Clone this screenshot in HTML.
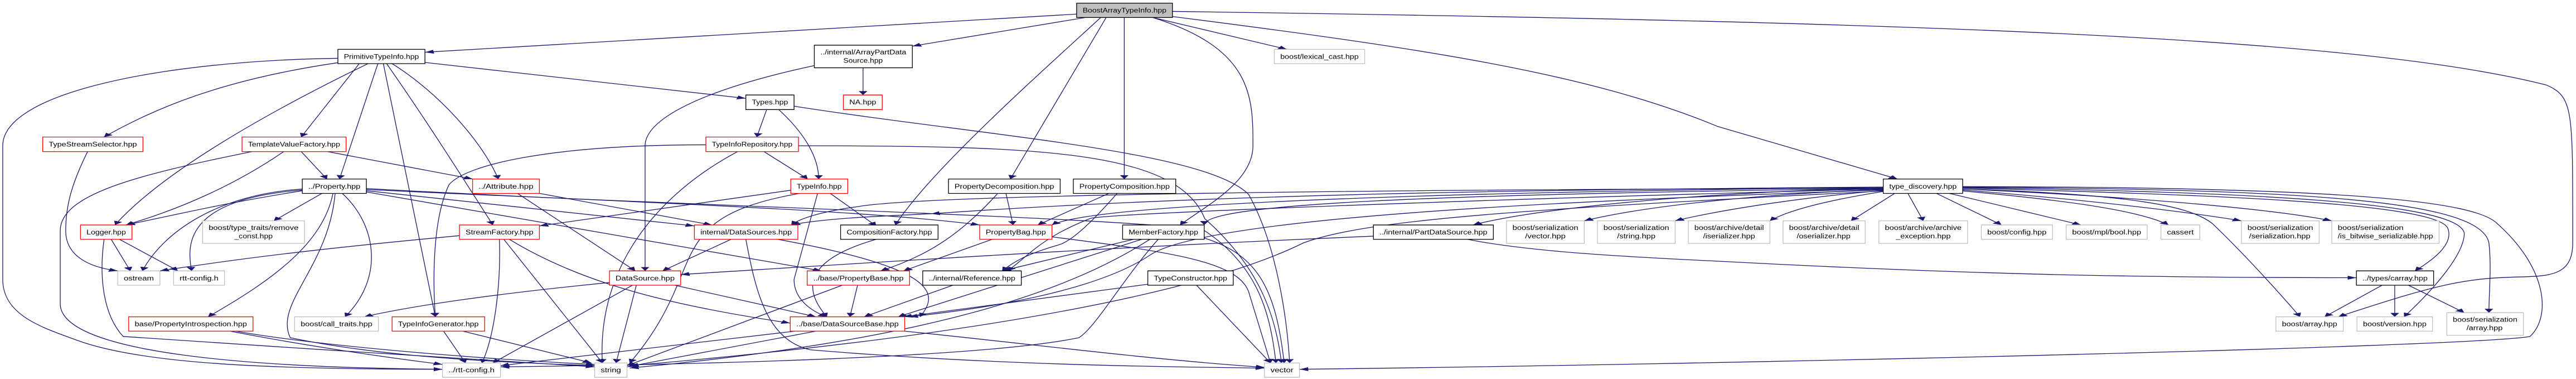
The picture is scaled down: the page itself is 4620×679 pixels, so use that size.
<!DOCTYPE html>
<html><head><meta charset="utf-8"><style>
html,body{margin:0;padding:0;background:#fff;width:4620px;height:679px;overflow:hidden}
svg{display:block}
text{font-family:"Liberation Sans",sans-serif;font-size:28px;fill:#000}
.e{fill:none;stroke:#191970;stroke-width:1.3;vector-effect:non-scaling-stroke}
.k{fill:#fff;stroke:#000;stroke-width:1.3;vector-effect:non-scaling-stroke}
.r{fill:#fff;stroke:#ff0000;stroke-width:1.3;vector-effect:non-scaling-stroke}
.g{fill:#fff;stroke:#bfbfbf;stroke-width:1.3;vector-effect:non-scaling-stroke}
.m{fill:#bfbfbf;stroke:#000;stroke-width:1.3;vector-effect:non-scaling-stroke}
</style></head><body>
<svg width="4620" height="679" viewBox="0 0 4704 1560" preserveAspectRatio="none" xmlns="http://www.w3.org/2000/svg">
<defs><marker id="a" markerUnits="userSpaceOnUse" markerWidth="18" markerHeight="18" refX="16" refY="8" orient="auto"><path d="M0,0 L16,8 L0,16 z" fill="#191970"/></marker></defs>
<g marker-end="url(#a)">
<!-- BoostArrayTypeInfo -->
<path class="e" d="M1966,58 L776,215"/>
<path class="e" d="M1982,72 L1666,190"/>
<path class="e" d="M2010,72 C1900,300 1700,700 1635,926"/>
<path class="e" d="M2020,72 L1845,737"/>
<path class="e" d="M2053,72 L2053,737"/>
<path class="e" d="M2105,72 C2288,200 2288,400 2288,600 C2288,750 2200,850 2155,926"/>
<path class="e" d="M2105,72 L2350,203"/>
<path class="e" d="M2141,68 C2600,200 2900,300 3136,520 L3465,737"/>
<path class="e" d="M2141,47 C3500,90 4300,150 4650,350 C4700,400 4698,450 4698,1000 C4698,1130 4660,1137 4600,1140 C4500,1145 4450,1170 4270,1304"/>
<!-- PrimitiveTypeInfo -->
<path class="e" d="M776,257 L1362,405"/>
<path class="e" d="M617,258 C400,330 280,450 190,564"/>
<path class="e" d="M656,262 L550,564"/>
<path class="e" d="M690,262 L620,737"/>
<path class="e" d="M716,262 C800,380 880,580 910,737"/>
<path class="e" d="M706,262 C780,500 850,750 900,926"/>
<path class="e" d="M700,262 L795,1304"/>
<path class="e" d="M672,262 C500,450 300,700 210,926"/>
<path class="e" d="M617,240 C300,250 5,380 5,600 L5,1150 C5,1300 80,1350 140,1400 C260,1500 500,1520 808,1520"/>
<!-- Types -->
<path class="e" d="M1400,451 L1382,564"/>
<path class="e" d="M1422,451 C1470,550 1495,650 1495,737"/>
<path class="e" d="M1450,437 C1800,560 2200,620 2280,800 C2330,1000 2350,1300 2355,1494"/>
<!-- ArrayPartDataSource -->
<path class="e" d="M1576,279 L1576,391"/>
<path class="e" d="M1487,270 C1300,360 1178,480 1178,600 L1178,1115"/>
<!-- TypeInfoRepository -->
<path class="e" d="M1395,624 L1475,737"/>
<path class="e" d="M1347,624 C1200,800 1090,1100 1100,1494"/>
<path class="e" d="M1289,596 C1000,596 850,680 820,760 C790,900 790,1150 795,1304"/>
<path class="e" d="M1458,600 C1900,600 2150,620 2200,900 C2300,1100 2330,1300 2340,1494"/>
<!-- TemplateValueFactory -->
<path class="e" d="M550,624 L597,737"/>
<path class="e" d="M598,624 L863,737"/>
<path class="e" d="M518,624 C430,760 330,860 230,926"/>
<path class="e" d="M460,624 C250,720 110,800 110,950 L110,1250 C110,1400 300,1510 808,1520"/>
<!-- Attribute -->
<path class="e" d="M945,796 L1160,1115"/>
<path class="e" d="M985,796 L1300,926"/>
<!-- TypeStreamSelector -->
<path class="e" d="M160,624 C130,760 120,850 120,950 C120,1050 160,1100 215,1115"/>
<!-- Property -->
<path class="e" d="M552,785 C400,840 330,880 230,926"/>
<path class="e" d="M552,778 C400,800 300,950 260,1115"/>
<path class="e" d="M552,782 C340,820 340,1000 350,1115"/>
<path class="e" d="M588,796 L500,909"/>
<path class="e" d="M608,796 C590,1000 500,1150 380,1304"/>
<path class="e" d="M625,796 C690,930 700,1150 630,1304"/>
<path class="e" d="M612,796 C600,1100 500,1250 530,1390 C700,1470 900,1490 1086,1505"/>
<path class="e" d="M669,785 L1268,930"/>
<path class="e" d="M669,790 L1500,1115"/>
<path class="e" d="M669,776 C1100,830 1568,860 1789,926"/>
<path class="e" d="M669,780 C1300,850 2100,900 2200,950 C2300,1100 2320,1300 2330,1494"/>
<!-- TypeInfo -->
<path class="e" d="M1444,783 L985,930"/>
<path class="e" d="M1460,796 C1200,900 1300,1100 1150,1494"/>
<path class="e" d="M1493,796 L1450,1150 C1450,1230 1480,1280 1510,1304"/>
<path class="e" d="M1516,796 L1600,930"/>
<!-- Logger -->
<path class="e" d="M203,985 L238,1115"/>
<path class="e" d="M218,985 L325,1115"/>
<path class="e" d="M190,985 C180,1150 190,1300 225,1385 C500,1430 900,1480 1086,1510"/>
<!-- StreamFactory -->
<path class="e" d="M839,970 C600,1020 450,1060 292,1115"/>
<path class="e" d="M912,985 C915,1200 900,1400 880,1494"/>
<path class="e" d="M920,985 L1100,1494"/>
<path class="e" d="M930,985 C1050,1150 1200,1250 1443,1330"/>
<!-- internal/DataSources -->
<path class="e" d="M1335,985 L1210,1115"/>
<path class="e" d="M1362,985 C1380,1200 1400,1400 1480,1440 C1800,1500 2100,1510 2309,1515"/>
<path class="e" d="M1420,985 C1700,1100 1720,1200 1680,1304"/>
<path class="e" d="M1700,880 C1600,890 1500,900 1445,926"/>
<!-- DataSource -->
<path class="e" d="M1113,1163 C900,1210 750,1260 665,1304"/>
<path class="e" d="M1155,1174 L900,1494"/>
<path class="e" d="M1162,1174 L1125,1494"/>
<path class="e" d="M1232,1174 L1490,1304"/>
<!-- PropertyBase -->
<path class="e" d="M1538,1174 L1145,1505"/>
<path class="e" d="M1566,1174 L1552,1304"/>
<!-- PropertyIntrospection / Generator -->
<path class="e" d="M420,1363 C550,1420 700,1470 808,1500"/>
<path class="e" d="M430,1363 C600,1430 900,1480 1086,1500"/>
<path class="e" d="M810,1363 L850,1494"/>
<path class="e" d="M845,1363 L1080,1494"/>
<!-- DataSourceBase -->
<path class="e" d="M1452,1363 L914,1505"/>
<path class="e" d="M1490,1363 L1145,1510"/>
<path class="e" d="M1652,1363 C1900,1420 2100,1480 2309,1512"/>
<!-- CompositionFactory -->
<path class="e" d="M1600,985 C1500,1050 1450,1150 1510,1304"/>
<!-- PropertyDecomposition / Composition -->
<path class="e" d="M1837,796 L1850,926"/>
<path class="e" d="M1822,796 C1760,950 1700,1050 1608,1115"/>
<path class="e" d="M2025,796 L1895,926"/>
<path class="e" d="M2040,796 C1980,950 1950,1000 1930,1010 C1870,1050 1850,1080 1830,1115"/>
<!-- PropertyBag -->
<path class="e" d="M1812,985 L1650,1115"/>
<path class="e" d="M1921,975 C2150,1040 2260,1080 2280,1200 C2300,1350 2310,1420 2320,1494"/>
<!-- MemberFactory -->
<path class="e" d="M2070,985 L1830,1115"/>
<path class="e" d="M2085,985 L1640,1304"/>
<path class="e" d="M2100,985 C1950,1200 1700,1400 1150,1515"/>
<path class="e" d="M2115,985 C2050,1150 2000,1350 1970,1390 C1800,1470 1300,1500 914,1510"/>
<path class="e" d="M2199,980 C2300,1050 2330,1200 2345,1494"/>
<!-- Reference / TypeConstructor -->
<path class="e" d="M1740,1174 L1578,1304"/>
<path class="e" d="M2096,1170 L1650,1304"/>
<path class="e" d="M2185,1174 L2320,1494"/>
<!-- PartDataSource -->
<path class="e" d="M2508,972 C2000,1020 1600,1080 1243,1130"/>
<path class="e" d="M2680,985 C2800,1040 3000,1060 3136,1075 C3600,1130 3900,1143 4303,1143"/>
<!-- type_discovery fan -->
<path class="e" d="M3439,775 C3100,790 2800,860 2690,926"/>
<path class="e" d="M3439,780 C3200,800 3000,850 2893,909"/>
<path class="e" d="M3439,784 C3300,810 3150,860 3059,909"/>
<path class="e" d="M3439,788 C3350,820 3270,860 3232,909"/>
<path class="e" d="M3460,796 L3380,909"/>
<path class="e" d="M3484,796 L3512,909"/>
<path class="e" d="M3536,796 L3655,926"/>
<path class="e" d="M3560,796 L3800,926"/>
<path class="e" d="M3584,786 C3750,820 3900,860 3960,926"/>
<path class="e" d="M3584,782 C3800,820 3990,870 4093,909"/>
<path class="e" d="M3584,778 C3900,810 4150,860 4258,909"/>
<path class="e" d="M3584,774 C4000,800 4450,830 4470,940 C4480,1000 4450,1060 4410,1115"/>
<path class="e" d="M3584,778 C3900,800 4000,850 4040,920 C4100,1050 4160,1200 4200,1304"/>
<path class="e" d="M3584,772 C4100,790 4490,830 4500,960 C4500,1050 4440,1200 4390,1304"/>
<path class="e" d="M3584,770 C4200,780 4530,820 4545,1000 C4550,1100 4545,1200 4545,1287"/>
<path class="e" d="M3584,768 C4300,770 4520,830 4560,920 C4650,1100 4660,1300 4620,1385 C4500,1430 3136,1500 2373,1520"/>
<path class="e" d="M3439,770 C2800,780 2200,800 1700,880"/>
<path class="e" d="M3439,772 C2600,790 2000,840 1921,926"/>
<path class="e" d="M3439,776 C2600,800 2200,840 2199,926"/>
<path class="e" d="M3439,778 C2700,820 2000,880 1990,900 C1900,980 1880,1050 1840,1115"/>
<path class="e" d="M3439,782 C2800,830 2200,900 2100,1050 C2000,1200 1800,1270 1660,1304"/>
<path class="e" d="M3439,786 C2800,860 2500,900 2380,1000 C2200,1200 1800,1380 1150,1505"/>
<path class="e" d="M3439,775 C2500,780 1700,800 1568,850 C1500,870 1460,900 1445,926"/>
<!-- carray -->
<path class="e" d="M4350,1174 L4245,1304"/>
<path class="e" d="M4373,1174 L4373,1304"/>
<path class="e" d="M4398,1174 L4500,1287"/>
</g>
<!-- nodes -->
<g>
<rect class="m" x="1966" y="13" width="175" height="59"/><text x="1977" y="52" textLength="153" lengthAdjust="spacingAndGlyphs">BoostArrayTypeInfo.hpp</text>
<rect class="k" x="617" y="203" width="159" height="59"/><text x="628" y="242" textLength="137" lengthAdjust="spacingAndGlyphs">PrimitiveTypeInfo.hpp</text>
<rect class="k" x="1487" y="186" width="179" height="93"/><text x="1498" y="224" textLength="157" lengthAdjust="spacingAndGlyphs">../internal/ArrayPartData</text><text x="1540" y="258" textLength="72" lengthAdjust="spacingAndGlyphs">Source.hpp</text>
<rect class="g" x="2327" y="203" width="165" height="59"/><text x="2338" y="242" textLength="143" lengthAdjust="spacingAndGlyphs">boost/lexical_cast.hpp</text>
<rect class="k" x="1362" y="391" width="88" height="60"/><text x="1373" y="430" textLength="66" lengthAdjust="spacingAndGlyphs">Types.hpp</text>
<rect class="r" x="1540" y="391" width="71" height="60"/><text x="1551" y="430" textLength="49" lengthAdjust="spacingAndGlyphs">NA.hpp</text>
<rect class="r" x="78" y="564" width="183" height="60"/><text x="89" y="603" textLength="161" lengthAdjust="spacingAndGlyphs">TypeStreamSelector.hpp</text>
<rect class="r" x="442" y="564" width="190" height="60"/><text x="453" y="603" textLength="168" lengthAdjust="spacingAndGlyphs">TemplateValueFactory.hpp</text>
<rect class="r" x="1289" y="564" width="169" height="60"/><text x="1300" y="603" textLength="147" lengthAdjust="spacingAndGlyphs">TypeInfoRepository.hpp</text>
<rect class="k" x="552" y="737" width="117" height="59"/><text x="563" y="776" textLength="95" lengthAdjust="spacingAndGlyphs">../Property.hpp</text>
<rect class="r" x="863" y="737" width="122" height="59"/><text x="874" y="776" textLength="100" lengthAdjust="spacingAndGlyphs">../Attribute.hpp</text>
<rect class="r" x="1444" y="737" width="104" height="59"/><text x="1455" y="776" textLength="82" lengthAdjust="spacingAndGlyphs">TypeInfo.hpp</text>
<rect class="k" x="1732" y="737" width="204" height="59"/><text x="1743" y="776" textLength="182" lengthAdjust="spacingAndGlyphs">PropertyDecomposition.hpp</text>
<rect class="k" x="1960" y="737" width="187" height="59"/><text x="1971" y="776" textLength="165" lengthAdjust="spacingAndGlyphs">PropertyComposition.hpp</text>
<rect class="k" x="3439" y="737" width="145" height="59"/><text x="3450" y="776" textLength="123" lengthAdjust="spacingAndGlyphs">type_discovery.hpp</text>
<rect class="r" x="147" y="926" width="94" height="59"/><text x="158" y="965" textLength="72" lengthAdjust="spacingAndGlyphs">Logger.hpp</text>
<rect class="g" x="370" y="909" width="186" height="93"/><text x="381" y="947" textLength="164" lengthAdjust="spacingAndGlyphs">boost/type_traits/remove</text><text x="428" y="981" textLength="70" lengthAdjust="spacingAndGlyphs">_const.hpp</text>
<rect class="r" x="839" y="926" width="146" height="59"/><text x="850" y="965" textLength="124" lengthAdjust="spacingAndGlyphs">StreamFactory.hpp</text>
<rect class="r" x="1268" y="926" width="189" height="59"/><text x="1279" y="965" textLength="167" lengthAdjust="spacingAndGlyphs">internal/DataSources.hpp</text>
<rect class="k" x="1535" y="926" width="178" height="59"/><text x="1546" y="965" textLength="156" lengthAdjust="spacingAndGlyphs">CompositionFactory.hpp</text>
<rect class="r" x="1789" y="926" width="132" height="59"/><text x="1800" y="965" textLength="110" lengthAdjust="spacingAndGlyphs">PropertyBag.hpp</text>
<rect class="k" x="2050" y="926" width="149" height="59"/><text x="2061" y="965" textLength="127" lengthAdjust="spacingAndGlyphs">MemberFactory.hpp</text>
<rect class="k" x="2508" y="926" width="219" height="59"/><text x="2519" y="965" textLength="197" lengthAdjust="spacingAndGlyphs">../internal/PartDataSource.hpp</text>
<rect class="g" x="2751" y="909" width="142" height="93"/><text x="2762" y="947" textLength="120" lengthAdjust="spacingAndGlyphs">boost/serialization</text><text x="2785" y="981" textLength="74" lengthAdjust="spacingAndGlyphs">/vector.hpp</text>
<rect class="g" x="2917" y="909" width="142" height="93"/><text x="2928" y="947" textLength="120" lengthAdjust="spacingAndGlyphs">boost/serialization</text><text x="2953" y="981" textLength="70" lengthAdjust="spacingAndGlyphs">/string.hpp</text>
<rect class="g" x="3083" y="909" width="149" height="93"/><text x="3094" y="947" textLength="127" lengthAdjust="spacingAndGlyphs">boost/archive/detail</text><text x="3110" y="981" textLength="95" lengthAdjust="spacingAndGlyphs">/iserializer.hpp</text>
<rect class="g" x="3256" y="909" width="150" height="93"/><text x="3267" y="947" textLength="128" lengthAdjust="spacingAndGlyphs">boost/archive/detail</text><text x="3281" y="981" textLength="98" lengthAdjust="spacingAndGlyphs">/oserializer.hpp</text>
<rect class="g" x="3431" y="909" width="162" height="93"/><text x="3442" y="947" textLength="140" lengthAdjust="spacingAndGlyphs">boost/archive/archive</text><text x="3462" y="981" textLength="100" lengthAdjust="spacingAndGlyphs">_exception.hpp</text>
<rect class="g" x="3618" y="926" width="130" height="59"/><text x="3629" y="965" textLength="108" lengthAdjust="spacingAndGlyphs">boost/config.hpp</text>
<rect class="g" x="3773" y="926" width="148" height="59"/><text x="3784" y="965" textLength="126" lengthAdjust="spacingAndGlyphs">boost/mpl/bool.hpp</text>
<rect class="g" x="3946" y="926" width="71" height="59"/><text x="3957" y="965" textLength="49" lengthAdjust="spacingAndGlyphs">cassert</text>
<rect class="g" x="4093" y="909" width="142" height="93"/><text x="4104" y="947" textLength="120" lengthAdjust="spacingAndGlyphs">boost/serialization</text><text x="4107" y="981" textLength="112" lengthAdjust="spacingAndGlyphs">/serialization.hpp</text>
<rect class="g" x="4258" y="909" width="196" height="93"/><text x="4269" y="947" textLength="120" lengthAdjust="spacingAndGlyphs">boost/serialization</text><text x="4269" y="981" textLength="174" lengthAdjust="spacingAndGlyphs">/is_bitwise_serializable.hpp</text>
<rect class="g" x="215" y="1115" width="77" height="59"/><text x="226" y="1154" textLength="55" lengthAdjust="spacingAndGlyphs">ostream</text>
<rect class="g" x="317" y="1115" width="93" height="59"/><text x="328" y="1154" textLength="71" lengthAdjust="spacingAndGlyphs">rtt-config.h</text>
<rect class="r" x="1113" y="1115" width="130" height="59"/><text x="1124" y="1154" textLength="108" lengthAdjust="spacingAndGlyphs">DataSource.hpp</text>
<rect class="r" x="1474" y="1115" width="187" height="59"/><text x="1485" y="1154" textLength="165" lengthAdjust="spacingAndGlyphs">../base/PropertyBase.hpp</text>
<rect class="k" x="1685" y="1115" width="180" height="59"/><text x="1696" y="1154" textLength="158" lengthAdjust="spacingAndGlyphs">../internal/Reference.hpp</text>
<rect class="k" x="2096" y="1115" width="156" height="59"/><text x="2107" y="1154" textLength="134" lengthAdjust="spacingAndGlyphs">TypeConstructor.hpp</text>
<rect class="k" x="4303" y="1115" width="141" height="59"/><text x="4314" y="1154" textLength="119" lengthAdjust="spacingAndGlyphs">../types/carray.hpp</text>
<rect class="r" x="235" y="1304" width="227" height="59"/><text x="246" y="1343" textLength="205" lengthAdjust="spacingAndGlyphs">base/PropertyIntrospection.hpp</text>
<rect class="g" x="538" y="1304" width="153" height="59"/><text x="549" y="1343" textLength="131" lengthAdjust="spacingAndGlyphs">boost/call_traits.hpp</text>
<rect class="r" x="716" y="1304" width="169" height="59"/><text x="727" y="1343" textLength="147" lengthAdjust="spacingAndGlyphs">TypeInfoGenerator.hpp</text>
<rect class="r" x="1443" y="1304" width="209" height="59"/><text x="1454" y="1343" textLength="187" lengthAdjust="spacingAndGlyphs">../base/DataSourceBase.hpp</text>
<rect class="g" x="4156" y="1304" width="123" height="59"/><text x="4167" y="1343" textLength="101" lengthAdjust="spacingAndGlyphs">boost/array.hpp</text>
<rect class="g" x="4304" y="1304" width="138" height="59"/><text x="4315" y="1343" textLength="116" lengthAdjust="spacingAndGlyphs">boost/version.hpp</text>
<rect class="g" x="4468" y="1287" width="140" height="93"/><text x="4479" y="1325" textLength="118" lengthAdjust="spacingAndGlyphs">boost/serialization</text><text x="4504" y="1359" textLength="66" lengthAdjust="spacingAndGlyphs">/array.hpp</text>
<rect class="g" x="808" y="1494" width="106" height="59"/><text x="819" y="1533" textLength="84" lengthAdjust="spacingAndGlyphs">../rtt-config.h</text>
<rect class="g" x="1086" y="1494" width="59" height="59"/><text x="1097" y="1533" textLength="37" lengthAdjust="spacingAndGlyphs">string</text>
<rect class="g" x="2309" y="1494" width="64" height="59"/><text x="2320" y="1533" textLength="42" lengthAdjust="spacingAndGlyphs">vector</text>
</g>
</svg>
</body></html>
